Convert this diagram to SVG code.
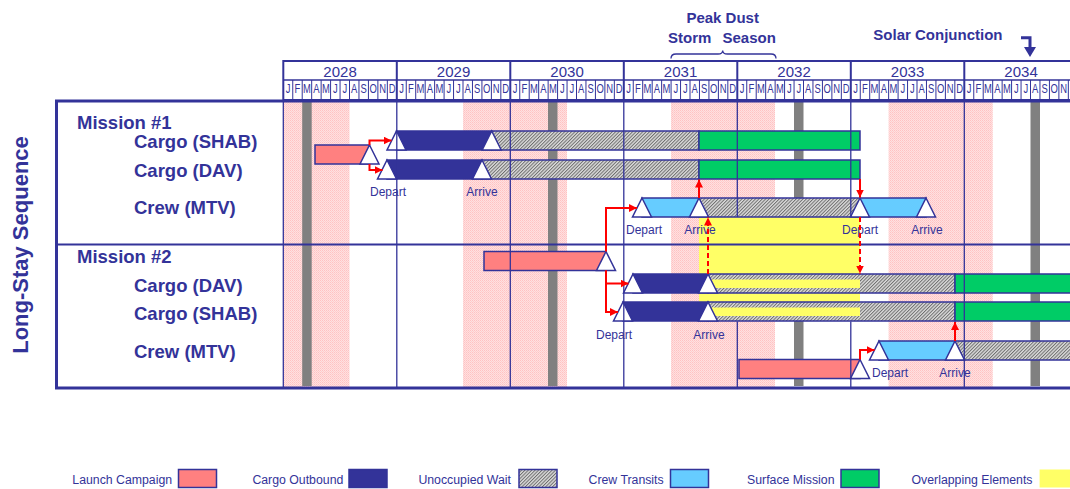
<svg xmlns="http://www.w3.org/2000/svg" xmlns:xlink="http://www.w3.org/1999/xlink" width="1070" height="489" viewBox="0 0 1070 489">
<style>
.t{font-family:"Liberation Sans",Arial,sans-serif;fill:#333399}
.b{font-weight:bold}
.bd{stroke:#333399;stroke-width:1.5}
.lc{fill:#FF8080}
.co{fill:#333399}
.uw{fill:url(#hatch)}
.ct{fill:#66CCFF}
.sm{fill:#00CC66}
.ov{fill:#FFFF66}
.tri{fill:#FFFFFF;stroke:#333399;stroke-width:1.5}
.lbl{font-family:"Liberation Sans",Arial,sans-serif;font-size:12px;fill:#333399;text-anchor:middle}
.red{stroke:#FF0000;stroke-width:2;fill:none;marker-end:url(#ah)}
.dash{stroke-dasharray:5 3}
.yl{stroke:#333399;stroke-width:1.3}
.band{fill:url(#pink)}
.sc{fill:#808080}
</style>
<defs>
<pattern id="hatch" width="2.4" height="2.4" patternUnits="userSpaceOnUse" patternTransform="rotate(45)">
<rect width="2.4" height="2.4" fill="#DCDCDC"/><rect width="1" height="2.4" fill="#6E6E6E"/>
</pattern>
<pattern id="pink" width="2" height="2" patternUnits="userSpaceOnUse">
<rect width="2" height="2" fill="#FFE0E0"/><rect width="1" height="1" fill="#FFC2C2"/><rect x="1" y="1" width="1" height="1" fill="#FFCDCD"/>
</pattern>
<marker id="ah" viewBox="0 0 10 10" refX="10" refY="5" markerWidth="8" markerHeight="8" markerUnits="userSpaceOnUse" orient="auto">
<path d="M0,0 L10,5 L0,10 Z" fill="#FF0000"/>
</marker>
<path id="tri" class="tri" d="M0,0 L9.5,19 L-9.5,19 Z"/>
<text id="months" class="t" font-size="13.5" text-anchor="middle" transform="scale(0.7,1)" x="6.756 20.267 33.779 47.290 60.801 74.313 87.824 101.336 114.847 128.359 141.870 155.381" y="92.7">JFMAMJJASOND</text>
<path id="msep" d="M9.458,80V100M18.917,80V100M28.375,80V100M37.833,80V100M47.292,80V100M56.75,80V100M66.208,80V100M75.667,80V100M85.125,80V100M94.583,80V100M104.042,80V100" stroke="#333399" stroke-width="1"/>
</defs>
<rect width="1070" height="489" fill="#FFFFFF"/>

<!-- dust storm season bands and solar conjunction bars -->
<g id="background">
<rect class="band" x="283.3" y="102" width="66.2" height="285"/>
<rect class="band" x="463" y="102" width="104" height="285"/>
<rect class="band" x="671" y="102" width="104" height="285"/>
<rect class="band" x="888.6" y="102" width="104.1" height="285"/>
<rect class="sc" x="302.2" y="102" width="9.5" height="284"/>
<rect class="sc" x="548" y="102" width="9.5" height="284"/>
<rect class="sc" x="794" y="102" width="9.5" height="284"/>
<rect class="sc" x="1030.5" y="102" width="9.5" height="284"/>
</g>

<!-- top annotations -->
<g id="dust-storm-note">
<text class="t b" font-size="15" x="722.7" y="23" text-anchor="middle">Peak Dust</text>
<text class="t b" font-size="15" x="668" y="43">Storm</text>
<text class="t b" font-size="15" x="722.5" y="43">Season</text>
<path d="M671,58.5 Q671,54 676,54 L718,54 Q722.7,54 722.7,50.5 Q722.7,54 727.4,54 L771,54 Q776,54 776,58.5" fill="none" stroke="#333399" stroke-width="1.3"/>
</g>
<g id="solar-conjunction-note">
<text class="t b" font-size="15" x="873.3" y="40">Solar Conjunction</text>
<path d="M1021,37.7 H1030 V48" fill="none" stroke="#333399" stroke-width="3"/>
<path d="M1024,47 L1036,47 L1030,57 Z" fill="#333399"/>
</g>

<!-- timeline header -->
<g id="timeline-header">
<rect x="283.3" y="61" width="800" height="39" fill="none" stroke="#333399" stroke-width="2"/>
<line x1="283.3" y1="80" x2="1070" y2="80" stroke="#333399" stroke-width="1.5"/>
<use href="#msep" xlink:href="#msep" transform="translate(283.3,0)"/>
<use href="#msep" xlink:href="#msep" transform="translate(396.8,0)"/>
<use href="#msep" xlink:href="#msep" transform="translate(510.3,0)"/>
<use href="#msep" xlink:href="#msep" transform="translate(623.8,0)"/>
<use href="#msep" xlink:href="#msep" transform="translate(737.3,0)"/>
<use href="#msep" xlink:href="#msep" transform="translate(850.8,0)"/>
<use href="#msep" xlink:href="#msep" transform="translate(964.3,0)"/>
<path d="M396.8,61V100M510.3,61V100M623.8,61V100M737.3,61V100M850.8,61V100M964.3,61V100" stroke="#333399" stroke-width="2"/>
<g class="t" font-size="15" text-anchor="middle">
<text x="340.05" y="76.5">2028</text>
<text x="453.55" y="76.5">2029</text>
<text x="567.05" y="76.5">2030</text>
<text x="680.55" y="76.5">2031</text>
<text x="794.05" y="76.5">2032</text>
<text x="907.55" y="76.5">2033</text>
<text x="1021.05" y="76.5">2034</text>
</g>
<use href="#months" xlink:href="#months" transform="translate(283.3,0)"/>
<use href="#months" xlink:href="#months" transform="translate(396.8,0)"/>
<use href="#months" xlink:href="#months" transform="translate(510.3,0)"/>
<use href="#months" xlink:href="#months" transform="translate(623.8,0)"/>
<use href="#months" xlink:href="#months" transform="translate(737.3,0)"/>
<use href="#months" xlink:href="#months" transform="translate(850.8,0)"/>
<use href="#months" xlink:href="#months" transform="translate(964.3,0)"/>
</g>

<!-- overlapping elements region -->
<rect id="overlap" class="ov" x="699" y="217" width="161" height="85"/>

<!-- Mission 1 -->
<text id="mission-1" class="t b" font-size="18.5" x="77" y="129">Mission #1</text>
<g id="m1-launch">
<rect class="lc bd" x="315" y="145" width="54.5" height="19"/>
<use href="#tri" xlink:href="#tri" x="369.5" y="145"/>
</g>
<g id="m1-cargo-shab">
<text class="t b" font-size="18.5" x="134" y="148">Cargo (SHAB)</text>
<rect class="co bd" x="396.5" y="131" width="95.2" height="19"/>
<rect class="uw bd" x="491.7" y="131" width="207.3" height="19"/>
<rect class="sm bd" x="699" y="131" width="161" height="19"/>
<use href="#tri" xlink:href="#tri" x="396.5" y="131"/>
<use href="#tri" xlink:href="#tri" x="491.7" y="131"/>
</g>
<g id="m1-cargo-dav">
<text class="t b" font-size="18.5" x="134" y="176.7">Cargo (DAV)</text>
<rect class="co bd" x="387" y="160" width="95" height="19"/>
<rect class="uw bd" x="482" y="160" width="217" height="19"/>
<rect class="sm bd" x="699" y="160" width="161" height="19"/>
<use href="#tri" xlink:href="#tri" x="387" y="160"/>
<use href="#tri" xlink:href="#tri" x="482" y="160"/>
<text class="lbl" x="388" y="195.5">Depart</text>
<text class="lbl" x="482" y="195.5">Arrive</text>
</g>
<g id="m1-crew-mtv">
<text class="t b" font-size="18.5" x="134" y="214.3">Crew (MTV)</text>
<rect class="ct bd" x="642" y="198" width="57" height="19"/>
<rect class="uw bd" x="699" y="198" width="161" height="19"/>
<rect class="ct bd" x="860" y="198" width="66" height="19"/>
<use href="#tri" xlink:href="#tri" x="642" y="198"/>
<use href="#tri" xlink:href="#tri" x="699" y="198"/>
<use href="#tri" xlink:href="#tri" x="860" y="198"/>
<use href="#tri" xlink:href="#tri" x="926" y="198"/>
<text class="lbl" x="644" y="234">Depart</text>
<text class="lbl" x="700" y="234">Arrive</text>
<text class="lbl" x="860" y="234">Depart</text>
<text class="lbl" x="927" y="234">Arrive</text>
</g>

<!-- Mission 2 -->
<text id="mission-2" class="t b" font-size="18.5" x="77" y="263.3">Mission #2</text>
<g id="m2-cargo-launch">
<rect class="lc bd" x="484" y="251.5" width="122" height="19"/>
<use href="#tri" xlink:href="#tri" x="606" y="251.5"/>
</g>
<g id="m2-cargo-dav">
<text class="t b" font-size="18.5" x="134" y="291.7">Cargo (DAV)</text>
<rect class="co bd" x="633" y="274" width="75" height="19"/>
<rect class="uw bd" x="708" y="274" width="247" height="19"/>
<rect class="ov" x="708" y="279.5" width="152" height="8.5"/>
<rect class="sm bd" x="955" y="274" width="125" height="19"/>
<use href="#tri" xlink:href="#tri" x="633" y="274"/>
<use href="#tri" xlink:href="#tri" x="708" y="274"/>
</g>
<g id="m2-cargo-shab">
<text class="t b" font-size="18.5" x="134" y="320">Cargo (SHAB)</text>
<rect class="co bd" x="623" y="302" width="85" height="19"/>
<rect class="uw bd" x="708" y="302" width="247" height="19"/>
<rect class="ov" x="708" y="307.5" width="152" height="8.5"/>
<rect class="sm bd" x="955" y="302" width="125" height="19"/>
<use href="#tri" xlink:href="#tri" x="623" y="302"/>
<use href="#tri" xlink:href="#tri" x="708" y="302"/>
<text class="lbl" x="614" y="338.5">Depart</text>
<text class="lbl" x="709" y="338.5">Arrive</text>
</g>
<g id="m2-crew-launch">
<rect class="lc bd" x="739" y="359.5" width="121" height="19"/>
<use href="#tri" xlink:href="#tri" x="860" y="359.5"/>
</g>
<g id="m2-crew-mtv">
<text class="t b" font-size="18.5" x="134" y="358.3">Crew (MTV)</text>
<rect class="ct bd" x="879" y="341" width="76" height="19"/>
<rect class="uw bd" x="955" y="341" width="125" height="19"/>
<use href="#tri" xlink:href="#tri" x="879" y="341"/>
<use href="#tri" xlink:href="#tri" x="955" y="341"/>
<text class="lbl" x="890" y="376.5">Depart</text>
<text class="lbl" x="955" y="376.5">Arrive</text>
</g>

<!-- year grid lines and frame -->
<g id="frame">
<path class="yl" d="M283.3,102V387M396.8,102V387M510.3,102V387M623.8,102V387M737.3,102V217M737.3,321.5V387M850.8,102V217M850.8,321.5V387M964.3,102V387"/>
<line x1="55" y1="244.5" x2="1070" y2="244.5" stroke="#333399" stroke-width="2"/>
<path d="M1070,101 H56.5 V388 H1070" fill="none" stroke="#333399" stroke-width="3"/>
<text class="t b" font-size="22" text-anchor="middle" transform="translate(28,245) rotate(-90)">Long-Stay Sequence</text>
</g>

<!-- connectors -->
<g id="connectors">
<path class="red" d="M369.5,145 V140.5 H391.5"/>
<path class="red" d="M369.5,164 V170 H382.5"/>
<path class="red" d="M699,198 V179.5"/>
<path class="red" d="M860,179 V197.5"/>
<path class="red" d="M606,251.5 V208 H637"/>
<path class="red" d="M606,270.5 V283.5 H628.5"/>
<path class="red" d="M606,270.5 V312 H618"/>
<path class="red dash" d="M708,274 V217.5"/>
<path class="red dash" d="M860,217 V273.5"/>
<path class="red" d="M860,359.5 V350 H874.5"/>
<path class="red" d="M955,341 V322"/>
</g>

<!-- legend -->
<g id="legend" class="t" font-size="12.3">
<text x="72.3" y="484">Launch Campaign</text>
<rect class="lc bd" x="178.5" y="469.5" width="38" height="18"/>
<text x="252.4" y="484">Cargo Outbound</text>
<rect class="co bd" x="349" y="469.5" width="38" height="18"/>
<text x="418.4" y="484">Unoccupied Wait</text>
<rect class="uw bd" x="519" y="469.5" width="38" height="18"/>
<text x="588.5" y="484">Crew Transits</text>
<rect class="ct bd" x="670.5" y="469.5" width="38" height="18"/>
<text x="747" y="484">Surface Mission</text>
<rect class="sm bd" x="841" y="469.5" width="38" height="18"/>
<text x="911.5" y="484">Overlapping Elements</text>
<rect class="ov" x="1039.6" y="469.5" width="38" height="18"/>
</g>
</svg>
